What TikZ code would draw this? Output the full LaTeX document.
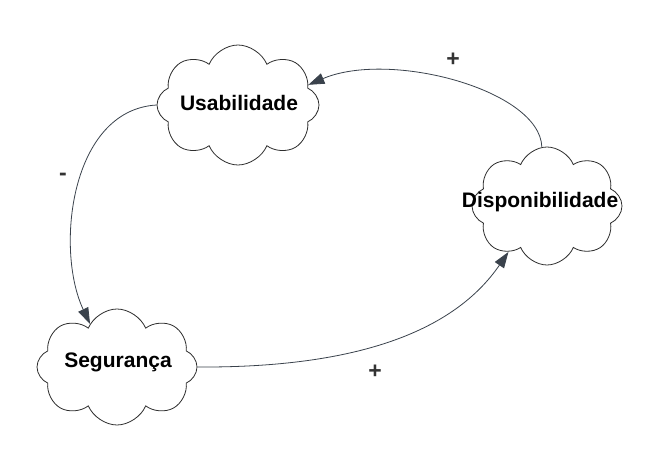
\documentclass[tikz,border=0pt]{standalone}
\usepackage{fontspec}
\setmainfont{Liberation Sans}
\usetikzlibrary{shapes.symbols,arrows.meta}
\definecolor{linec}{HTML}{3A424C}
\definecolor{cloudc}{HTML}{2E2E2E}
\tikzset{
  cloudbox/.style={cloud, cloud puffs=8, cloud puff arc=135, cloud ignores aspect,
    draw=cloudc, line width=0.8pt, fill=white, inner sep=0pt},
  lbl/.style={font=\fontsize{21}{24}\selectfont\bfseries, text=black},
  sgn/.style={font=\fontsize{23}{26}\selectfont\bfseries, text=black!80},
  arr/.style={draw=linec, line width=0.8pt, -{Triangle[length=16pt,width=11pt]}}
}
\begin{document}
\begin{tikzpicture}[x=1pt,y=-1pt]
\useasboundingbox[fill=white] (0,0) rectangle (668,470);
\node[cloudbox, minimum width=162pt, minimum height=120pt] (usab) at (238,105) {};
\node[lbl] (usabt) at (239,103) {Usabilidade};
\node[cloudbox, minimum width=150pt, minimum height=118pt] (disp) at (547,206) {};
\node[lbl] (dispt) at (540,202) {Disponibilidade};
\node[cloudbox, minimum width=160pt, minimum height=116pt] (seg) at (117,367) {};
\node[lbl] (segt) at (118,362) {Segurança};
\draw[arr] (disp.95) .. controls (540,90) and (390,50) .. (usab.16);
\draw[arr] (usab.180) .. controls (70,110) and (55,250) .. (seg.122);
\draw[arr] (seg.0) .. controls (360,368) and (455,330) .. (disp.230);
\node[sgn] (p1) at (453,60) {+};
\node[sgn] (m1) at (63,177) {-};
\node[sgn] (p2) at (375,372) {+};
\end{tikzpicture}
\end{document}
